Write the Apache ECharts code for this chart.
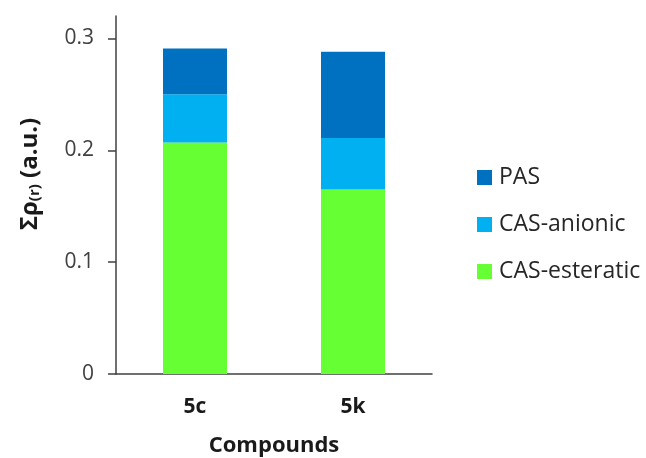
<!DOCTYPE html>
<html><head><meta charset="utf-8">
<script src="https://cdn.jsdelivr.net/npm/echarts@6/dist/echarts.min.js"></script>
<style>html,body{margin:0;padding:0;background:#fff}#c{width:646px;height:458px}</style>
</head><body><div id="c"></div>
<script>
const categories = ['5c', '5k'];
const esteratic = [0.207, 0.165];
const anionic = [0.043, 0.046];
const pas = [0.041, 0.077];
const yTicks = [0, 0.1, 0.2, 0.3];

const chart = echarts.init(document.getElementById('c'));
const font = 'Open Sans';
chart.setOption({
  animation: false,
  grid: {left: 116, right: 214, top: 16, bottom: 84, outerBoundsMode: 'none', containLabel: false},
  legend: {
    orient: 'vertical', left: 472, top: 161, itemGap: 24,
    itemWidth: 15, itemHeight: 15, icon: 'rect',
    data: ['PAS', 'CAS-anionic', 'CAS-esteratic'],
    textStyle: {fontFamily: font, fontSize: 23, color: '#262626', padding: [0,0,0,2]}
  },
  xAxis: {
    type: 'category', data: categories,
    name: 'Compounds', nameLocation: 'middle', nameGap: 61,
    nameTextStyle: {fontFamily: font, fontSize: 22, fontWeight: 'bold', color: '#1a1a1a'},
    axisLine: {lineStyle: {color: '#404040', width: 1.5}},
    axisTick: {show: false},
    axisLabel: {margin: 23, fontFamily: font, fontSize: 21, fontWeight: 'bold', color: '#1a1a1a'}
  },
  yAxis: {
    type: 'value', min: 0, max: 0.32,
    name: '{s|Σρ}{sub|(r)}{s| (a.u.)}', nameLocation: 'middle', nameGap: 74,
    nameTextStyle: {
      padding: [0, 0, 0, 42],
      rich: {
        s: {fontFamily: font, fontSize: 24, fontWeight: 'bold', color: '#1a1a1a'},
        sub: {fontFamily: font, fontSize: 15, fontWeight: 'bold', color: '#1a1a1a', verticalAlign: 'bottom', padding: [9,0,0,0]}
      }
    },
    axisLine: {show: true, lineStyle: {color: '#404040', width: 1.5}},
    axisTick: {show: true, length: 8, customValues: yTicks, lineStyle: {color: '#404040', width: 1.5}},
    axisLabel: {margin: 22, customValues: yTicks, fontFamily: font, fontSize: 21, color: '#404040'},
    splitLine: {show: false}
  },
  series: [
    {name: 'CAS-esteratic', type: 'bar', stack: 't', data: esteratic, barWidth: 64, itemStyle: {color: '#66FF33'}},
    {name: 'CAS-anionic', type: 'bar', stack: 't', data: anionic, barWidth: 64, itemStyle: {color: '#00B0F0'}},
    {name: 'PAS', type: 'bar', stack: 't', data: pas, barWidth: 64, itemStyle: {color: '#0070C0'}}
  ]
});
</script></body></html>
